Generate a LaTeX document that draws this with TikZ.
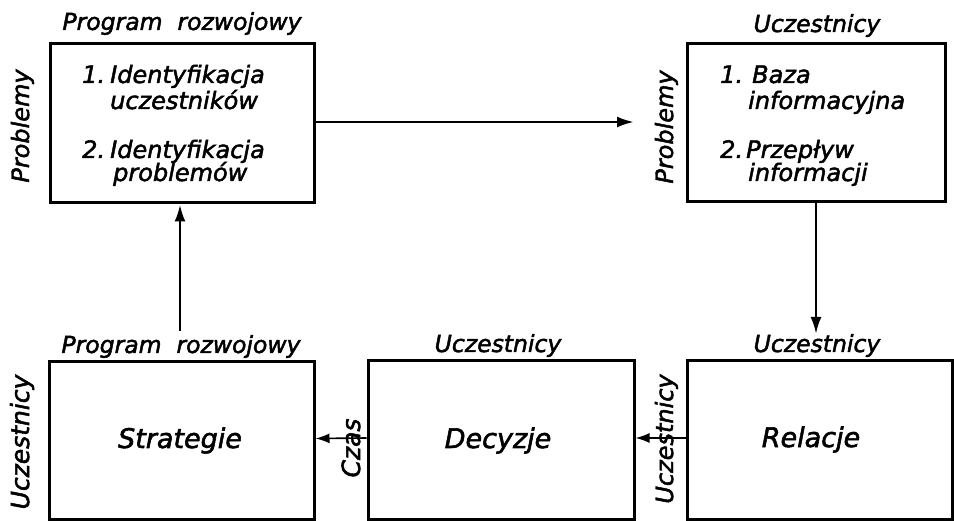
\documentclass[tikz,border=0pt]{standalone}
\usepackage{fontspec}
\usetikzlibrary{arrows.meta}
\newfontfamily\handfont{DejaVu Sans}[ItalicFeatures={FakeBold=2}]
\newcommand{\hand}{\handfont\itshape}
\tikzset{
  box/.style={draw, line width=3pt, rectangle, inner sep=0pt},
  lbl/.style={font=\hand\fontsize{23.5}{26}\selectfont, inner sep=0pt, anchor=base},
  side/.style={font=\hand\fontsize{24}{28}\selectfont, inner sep=0pt, anchor=base, rotate=90},
  item/.style={font=\hand\fontsize{24}{28}\selectfont, inner sep=0pt, anchor=base west},
  word/.style={font=\hand\fontsize{27}{30}\selectfont, inner sep=0pt, anchor=base},
  mainarrow/.style={line width=2.6pt, -{Latex[length=17pt, width=11pt]}},
  minorarrow/.style={line width=1.6pt, -{Latex[length=14pt, width=10pt]}}
}
\begin{document}
\begin{tikzpicture}[x=1pt, y=-1pt]
\useasboundingbox (0,0) rectangle (954,521);

% boxes
\node[box, minimum width=264pt, minimum height=159pt] (tl) at (182,123.5) {};
\node[box, minimum width=258pt, minimum height=158pt] (tr) at (816,123) {};
\node[box, minimum width=265pt, minimum height=157pt] (bl) at (181.5,440.5) {};
\node[box, minimum width=266pt, minimum height=158pt] (bm) at (501,440) {};
\node[box, minimum width=265pt, minimum height=158pt] (br) at (819.5,440) {};

% headings above the boxes
\node[lbl] (tlhead) at (182,30) {Program \ rozwojowy};
\node[lbl] (trhead) at (817,32) {Uczestnicy};
\node[lbl] (blhead) at (181,353) {Program \ rozwojowy};
\node[lbl] (bmhead) at (498,352) {Uczestnicy};
\node[lbl] (brhead) at (817,352) {Uczestnicy};

% side labels
\node[side] (tlside) at (29,126) {Problemy};
\node[side] (trside) at (673,127) {Problemy};
\node[side, font=\hand\fontsize{25}{28}\selectfont] (blside) at (29,442) {Uczestnicy};
\node[side, font=\hand\fontsize{25}{28}\selectfont] (czas) at (360,448) {Czas};
\node[side] (brside) at (673,439) {Uczestnicy};

% top-left box contents
\node[item] (tln1) at (82,83) {1.};
\node[item] (tlt1) at (110,83) {Identyfikacja};
\node[item] (tlt1b) at (110,109) {uczestników};
\node[item] (tln2) at (82,158) {2.};
\node[item] (tlt2) at (110,158) {Identyfikacja};
\node[item] (tlt2b) at (113,181) {problemów};

% top-right box contents
\node[item] (trn1) at (720,83) {1.};
\node[item] (trt1) at (752,83) {Baza};
\node[item] (trt1b) at (748,109) {informacyjna};
\node[item] (trn2) at (720,158) {2.};
\node[item] (trt2) at (746,158) {Przepływ};
\node[item] (trt2b) at (748,181) {informacji};

% bottom box contents
\node[word] (strat) at (180,448) {Strategie};
\node[word] (dec) at (498,448) {Decyzje};
\node[word] (rel) at (811,447) {Relacje};

% connectors
\coordinate (topend) at (634,122);
\draw[mainarrow] (tl.east |- topend) -- (topend);
\coordinate (upfoot) at (180,331);
\draw[mainarrow] (upfoot) -- (upfoot |- tl.south);
\coordinate (downend) at (816,334);
\draw[mainarrow] (tr.south) -- (downend);
\draw[minorarrow] ([yshift=2pt]bm.west) -- ([yshift=2pt]bl.east);
\draw[minorarrow] ([yshift=2pt]br.west) -- ([yshift=2pt]bm.east);
\end{tikzpicture}
\end{document}
